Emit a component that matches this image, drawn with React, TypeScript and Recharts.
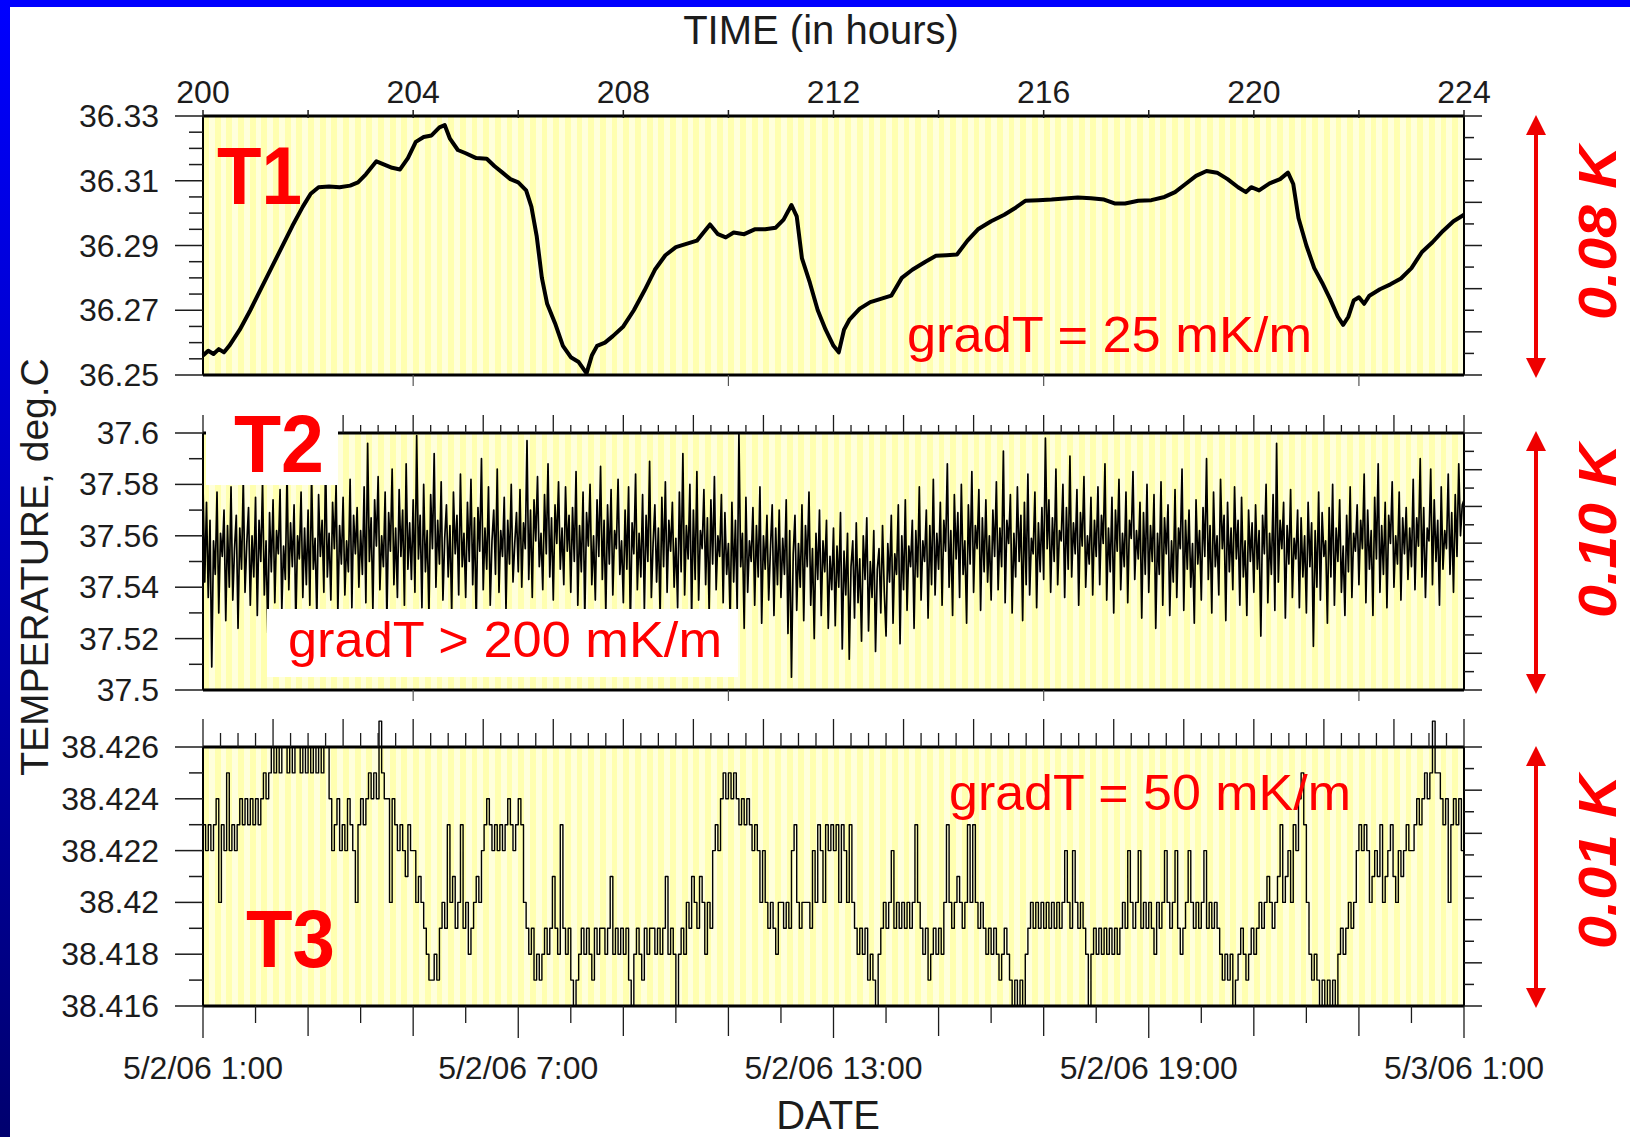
import React from 'react';
import { LineChart, Line, XAxis, YAxis, CartesianGrid } from 'recharts';

const W = 1630;
const H = 1137;
const PLOT_LEFT = 203;
const PLOT_RIGHT = 1464;
const AXIS_W = 40;
const AXIS_H = 30;
const FONT = '"Liberation Sans", Arial, Helvetica, sans-serif';
const INK = '#1c1c1c';
const RED = '#ff0000';

// time axis, hours since start of record
const HOUR_DOMAIN: [number, number] = [200, 224];
const hourLabels = [200, 204, 208, 212, 216, 220, 224];
const dateHours = [200, 206, 212, 218, 224];
const dateLabels = ['5/2/06 1:00', '5/2/06 7:00', '5/2/06 13:00', '5/2/06 19:00', '5/3/06 1:00'];

// T1 sensor, deg.C
const t1Hours = [
  200.0, 200.1, 200.2, 200.3, 200.4, 200.5, 200.7, 200.9, 201.1, 201.3, 201.5, 201.7, 201.9, 202.05,
  202.2, 202.4, 202.6, 202.8, 202.95, 203.1, 203.3, 203.45, 203.6, 203.75, 203.9, 204.05, 204.2,
  204.35, 204.5, 204.6, 204.7, 204.85, 205.0, 205.2, 205.4, 205.55, 205.7, 205.85, 206.0, 206.15,
  206.25, 206.35, 206.45, 206.55, 206.7, 206.85, 207.0, 207.15, 207.3, 207.4, 207.5, 207.65, 207.8,
  208.0, 208.2, 208.4, 208.6, 208.8, 209.0, 209.2, 209.4, 209.55, 209.65, 209.8, 209.95, 210.1,
  210.3, 210.5, 210.7, 210.9, 211.05, 211.2, 211.3, 211.4, 211.55, 211.7, 211.85, 212.0, 212.1,
  212.2, 212.3, 212.5, 212.7, 212.9, 213.1, 213.3, 213.5, 213.75, 213.95, 214.15, 214.35, 214.55,
  214.75, 215.0, 215.25, 215.45, 215.65, 215.9, 216.15, 216.4, 216.65, 216.9, 217.15, 217.35,
  217.55, 217.8, 218.05, 218.3, 218.5, 218.7, 218.9, 219.1, 219.3, 219.5, 219.7, 219.85, 219.95,
  220.1, 220.3, 220.5, 220.65, 220.75, 220.85, 221.0, 221.15, 221.3, 221.45, 221.6, 221.7, 221.8,
  221.9, 222.0, 222.1, 222.2, 222.4, 222.6, 222.8, 223.0, 223.2, 223.4, 223.6, 223.8, 224.0,
];
const t1Temps = [
  36.256, 36.2575, 36.2565, 36.258, 36.257, 36.259, 36.264, 36.27, 36.2765, 36.283, 36.2895, 36.296,
  36.302, 36.306, 36.308, 36.3082, 36.308, 36.3085, 36.3095, 36.312, 36.316, 36.315, 36.314, 36.3135,
  36.317, 36.322, 36.3235, 36.324, 36.3265, 36.3272, 36.323, 36.3195, 36.3185, 36.317, 36.3168,
  36.3145, 36.3125, 36.3105, 36.3095, 36.307, 36.302, 36.293, 36.28, 36.272, 36.266, 36.259, 36.2555,
  36.254, 36.2505, 36.256, 36.259, 36.26, 36.262, 36.265, 36.27, 36.276, 36.2825, 36.287, 36.2895,
  36.2905, 36.2915, 36.2945, 36.2965, 36.2935, 36.2925, 36.294, 36.2935, 36.295, 36.295, 36.2955,
  36.298, 36.3025, 36.299, 36.286, 36.2785, 36.27, 36.264, 36.259, 36.257, 36.264, 36.267, 36.2705,
  36.2725, 36.2735, 36.2745, 36.28, 36.2825, 36.285, 36.2868, 36.287, 36.2872, 36.2915, 36.295,
  36.2975, 36.2995, 36.3015, 36.3038, 36.304, 36.3042, 36.3045, 36.3048, 36.3046, 36.3042, 36.303,
  36.303, 36.3038, 36.304, 36.305, 36.3065, 36.309, 36.3115, 36.313, 36.3125, 36.3105, 36.308,
  36.3065, 36.308, 36.307, 36.3092, 36.3105, 36.3125, 36.309, 36.2985, 36.29, 36.283, 36.2785,
  36.2735, 36.268, 36.2655, 36.268, 36.273, 36.274, 36.272, 36.2745, 36.2765, 36.278, 36.2798,
  36.283, 36.288, 36.291, 36.2945, 36.2975, 36.2995,
];

// T2 sensor, one reading every 2 minutes, mK above 37.5 deg.C
const T2_BASE = 37.5;
const t2Milli = [
  80, 42, 73, 36, 66, 9, 58, 45, 77, 30, 61, 52, 70, 27, 64, 40, 79, 35, 55, 68, 24, 63, 47, 82, 38, 57, 71, 33, 60, 44,
  75, 29, 66, 50, 81, 37, 58, 22, 69, 46, 74, 34, 62, 53, 78, 31, 56, 43, 85, 39, 65, 48, 72, 26, 60, 51, 77, 36, 63, 41,
  70, 33, 84, 47, 59, 28, 76, 52, 66, 38, 90, 44, 61, 35, 73, 55, 80, 30, 64, 49, 75, 37, 58, 46, 82, 32, 68, 53, 71, 40,
  62, 45, 79, 34, 96, 50, 67, 31, 74, 56, 83, 39, 60, 48, 77, 27, 69, 54, 86, 41, 63, 36, 78, 52, 70, 33, 88, 47, 65, 43,
  74, 38, 99, 51, 68, 32, 80, 46, 62, 29, 76, 55, 92, 40, 66, 49, 81, 35, 59, 72, 44, 64, 30, 77, 53, 68, 37, 84, 48, 61,
  36, 73, 50, 82, 41, 67, 26, 71, 54, 90, 39, 63, 47, 79, 33, 58, 70, 45, 86, 38, 62, 52, 75, 31, 66, 49, 80, 42, 57, 69,
  46, 78, 40, 65, 55, 97, 43, 70, 36, 74, 58, 83, 48, 61, 39, 76, 53, 88, 44, 67, 35, 72, 57, 81, 47, 63, 41, 79, 54, 68,
  38, 71, 50, 85, 33, 64, 46, 77, 28, 69, 56, 80, 41, 60, 35, 74, 52, 87, 43, 66, 30, 72, 49, 78, 37, 62, 55, 82, 45, 58,
  34, 70, 47, 79, 25, 65, 53, 84, 39, 61, 44, 76, 31, 68, 50, 89, 36, 57, 72, 42, 63, 29, 75, 48, 81, 38, 66, 54, 73, 40,
  59, 32, 77, 46, 92, 37, 64, 51, 80, 28, 70, 43, 85, 35, 62, 55, 78, 41, 67, 30, 74, 49, 83, 39, 60, 52, 76, 34, 69, 45,
  57, 27, 73, 42, 66, 31, 100, 48, 61, 24, 75, 38, 58, 50, 71, 33, 64, 44, 79, 26, 60, 47, 68, 35, 55, 72, 29, 63, 41, 70,
  36, 59, 45, 74, 22, 62, 5, 53, 68, 31, 57, 40, 72, 27, 64, 48, 77, 33, 55, 20, 61, 43, 70, 29, 58, 46, 66, 24, 52, 39,
  63, 25, 56, 40, 69, 16, 54, 37, 61, 12, 48, 58, 28, 65, 34, 51, 19, 60, 43, 67, 23, 50, 36, 62, 15, 47, 55, 30, 64, 38,
  21, 57, 42, 68, 26, 53, 45, 72, 18, 60, 39, 74, 31, 56, 48, 66, 24, 62, 44, 79, 35, 58, 50, 70, 28, 64, 41, 82, 37, 61,
  47, 73, 33, 66, 54, 88, 40, 62, 29, 76, 51, 69, 36, 80, 45, 58, 26, 72, 49, 85, 38, 64, 55, 78, 31, 67, 46, 74, 42, 60,
  35, 70, 52, 81, 39, 63, 48, 93, 34, 66, 57, 76, 30, 61, 44, 79, 50, 68, 27, 73, 41, 84, 37, 59, 53, 77, 32, 65, 46, 71,
  43, 98, 55, 74, 38, 67, 50, 86, 41, 62, 58, 80, 36, 71, 47, 91, 44, 65, 53, 78, 33, 69, 56, 83, 40, 60, 49, 75, 37, 66,
  52, 79, 41, 68, 57, 88, 35, 63, 46, 75, 30, 70, 54, 82, 39, 61, 48, 77, 34, 66, 59, 85, 43, 62, 51, 73, 28, 69, 45, 80,
  38, 64, 50, 76, 24, 61, 45, 81, 33, 67, 53, 72, 29, 58, 42, 78, 36, 63, 55, 86, 31, 66, 47, 70, 40, 57, 26, 74, 49, 62,
  35, 71, 52, 90, 43, 64, 30, 77, 48, 60, 37, 82, 55, 68, 27, 73, 46, 63, 39, 79, 51, 66, 33, 75, 44, 58, 29, 70, 50, 65,
  38, 72, 47, 62, 21, 68, 53, 80, 34, 61, 45, 76, 31, 96, 42, 66, 55, 73, 28, 64, 49, 78, 36, 59, 51, 70, 32, 67, 44, 60,
  30, 73, 48, 65, 17, 62, 40, 77, 35, 69, 52, 58, 26, 71, 44, 80, 33, 63, 50, 74, 38, 56, 29, 68, 46, 79, 36, 61, 54, 72,
  41, 66, 55, 84, 34, 70, 47, 62, 29, 75, 51, 88, 38, 64, 45, 73, 32, 68, 57, 81, 40, 60, 49, 77, 35, 67, 53, 71, 43, 63,
  48, 82, 39, 67, 56, 90, 44, 71, 36, 63, 58, 86, 41, 74, 50, 66, 33, 79, 47, 62, 55, 84, 45, 69, 38, 76, 52, 88, 60, 72,
  74,
];

// T3 sensor, 1 mK resolution, one reading every 3 minutes, mK above 38.416 deg.C
const T3_BASE = 38.416;
const t3Milli = [
  7, 6, 7, 6, 7, 8, 4, 7, 6, 9, 6, 7, 6, 7, 8, 7, 8, 7, 8, 7,
  8, 7, 8, 9, 8, 9, 10, 9, 10, 9, 10, 10, 9, 10, 9, 10, 10, 9, 10, 9,
  10, 9, 10, 9, 10, 9, 10, 10, 8, 6, 7, 8, 6, 7, 6, 8, 7, 6, 4, 7,
  8, 7, 8, 9, 8, 9, 8, 11, 9, 8, 8, 4, 8, 7, 6, 7, 6, 5, 7, 6,
  6, 4, 5, 4, 3, 2, 1, 1, 2, 1, 3, 4, 3, 7, 4, 5, 3, 4, 7, 3,
  4, 2, 3, 4, 5, 4, 6, 7, 8, 7, 6, 7, 6, 7, 6, 7, 8, 7, 6, 7,
  8, 7, 4, 3, 2, 3, 1, 2, 1, 2, 3, 2, 3, 5, 3, 2, 7, 3, 2, 3,
  1, 0, 1, 2, 3, 2, 3, 2, 1, 3, 2, 3, 3, 2, 3, 5, 2, 3, 2, 3,
  2, 3, 1, 0, 2, 3, 2, 1, 3, 2, 3, 3, 2, 3, 2, 3, 5, 2, 3, 2,
  0, 2, 3, 2, 4, 3, 5, 4, 3, 5, 4, 2, 4, 3, 6, 7, 6, 8, 9, 8,
  9, 8, 9, 8, 7, 8, 7, 8, 7, 6, 7, 6, 4, 6, 4, 3, 4, 3, 2, 4,
  4, 3, 4, 3, 6, 7, 4, 3, 4, 4, 4, 3, 6, 4, 7, 6, 4, 7, 6, 7,
  6, 7, 4, 7, 6, 4, 7, 4, 3, 2, 3, 2, 3, 1, 2, 1, 0, 2, 3, 4,
  3, 4, 6, 3, 4, 3, 4, 3, 4, 3, 4, 7, 4, 3, 2, 3, 1, 2, 3, 2,
  3, 2, 4, 7, 4, 3, 4, 5, 4, 3, 4, 7, 4, 7, 4, 3, 4, 3, 2, 3,
  2, 3, 2, 1, 2, 3, 2, 1, 0, 1, 0, 1, 0, 2, 3, 4, 3, 4, 3, 4,
  3, 4, 3, 4, 3, 4, 3, 4, 6, 4, 3, 6, 4, 3, 4, 3, 2, 0, 2, 3,
  2, 3, 2, 3, 2, 3, 2, 3, 2, 3, 4, 3, 6, 4, 3, 4, 6, 3, 4, 3,
  4, 3, 2, 4, 3, 4, 6, 4, 3, 4, 6, 3, 2, 3, 4, 6, 4, 3, 4, 3,
  4, 6, 3, 4, 3, 4, 3, 2, 1, 2, 1, 2, 0, 1, 2, 3, 2, 1, 2, 3,
  2, 3, 4, 3, 4, 5, 4, 3, 4, 5, 7, 4, 5, 6, 4, 7, 6, 8, 9, 7,
  4, 2, 1, 2, 1, 0, 1, 0, 1, 0, 1, 0, 2, 3, 2, 3, 4, 3, 4, 6,
  7, 6, 7, 6, 4, 5, 6, 5, 7, 4, 5, 6, 7, 5, 4, 6, 5, 6, 7, 6,
  6, 7, 8, 7, 8, 9, 8, 9, 11, 9, 9, 8, 7, 8, 4, 7, 8, 7, 8, 6,
  6,
];

// y-axis labels of the three panels
const t1Labels = [36.25, 36.27, 36.29, 36.31, 36.33];
const t2Labels = [37.5, 37.52, 37.54, 37.56, 37.58, 37.6];
const t3Labels = [38.416, 38.418, 38.42, 38.422, 38.424, 38.426];

type Pt = { h: number; v: number };

const spanHours = (i: number, n: number) =>
  HOUR_DOMAIN[0] + (i * (HOUR_DOMAIN[1] - HOUR_DOMAIN[0])) / (n - 1);

const t1Data: Pt[] = t1Hours.map((h, i) => ({ h, v: t1Temps[i] }));
const t2Data: Pt[] = t2Milli.map((m, i) => ({ h: spanHours(i, t2Milli.length), v: +(T2_BASE + m / 1000).toFixed(3) }));
const t3Data: Pt[] = t3Milli.map((m, i) => ({ h: spanHours(i, t3Milli.length), v: +(T3_BASE + m / 1000).toFixed(3) }));

const steps = (from: number, to: number, step: number) => {
  const n = Math.round((to - from) / step);
  return Array.from({ length: n + 1 }, (_, k) => +(from + k * step).toFixed(5));
};

// pale yellow pin-stripes behind each trace
const stripeCoords = (props: any) => {
  const left = props?.offset?.left ?? PLOT_LEFT;
  const width = props?.offset?.width ?? PLOT_RIGHT - PLOT_LEFT;
  const n = 216;
  return Array.from({ length: n }, (_, i) => left + (width * i) / n);
};

const tickText = { fontFamily: FONT, fontSize: 32, fill: INK } as const;

const leftTick = (labels: number[], step: number) => (props: any) => {
  const { x, y, payload } = props;
  const label = labels.find((l) => Math.abs(l - payload.value) < step / 10);
  return (
    <g>
      <line x1={x} x2={x - (label !== undefined ? 28 : 14)} y1={y} y2={y} stroke={INK} strokeWidth={1.5} />
      {label !== undefined && (
        <text x={x - 44} y={y + 11} textAnchor="end" {...tickText}>
          {String(label)}
        </text>
      )}
    </g>
  );
};

const rightTick = (props: any) => {
  const { x, y, payload } = props;
  const long = Math.round(payload.value) % 2 === 0;
  return <line x1={x} x2={x + (long ? 18 : 10)} y1={y} y2={y} stroke={INK} strokeWidth={1.5} />;
};

const hourTick = (props: any) => {
  const { x, y, payload } = props;
  const label = hourLabels.find((l) => Math.abs(l - payload.value) < 0.01);
  return (
    <g>
      <line x1={x} x2={x} y1={y + 2} y2={y - 6} stroke={INK} strokeWidth={1.5} />
      {label !== undefined && (
        <text x={x} y={y - 13} textAnchor="middle" {...tickText}>
          {String(label)}
        </text>
      )}
    </g>
  );
};

const fineTick = (major: number, minor: number) => (props: any) => {
  const { x, y, payload } = props;
  const k = Math.round((payload.value - HOUR_DOMAIN[0]) * 3);
  return <line x1={x} x2={x} y1={y} y2={y - (k % 4 === 0 ? major : minor)} stroke={INK} strokeWidth={1.3} />;
};

const sparseTick = (props: any) => {
  const { x, y } = props;
  return <line x1={x} x2={x} y1={y} y2={y + 11} stroke="#555" strokeWidth={1.2} />;
};

const dateTick = (props: any) => {
  const { x, y, payload } = props;
  const idx = dateHours.findIndex((d) => Math.abs(d - payload.value) < 0.01);
  const long = Math.round(payload.value - HOUR_DOMAIN[0]) % 2 === 0;
  return (
    <g>
      <line x1={x} x2={x} y1={y} y2={y + (idx >= 0 ? 32 : long ? 30 : 17)} stroke={INK} strokeWidth={1.3} />
      {idx >= 0 && (
        <text x={x} y={y + 73} textAnchor="middle" {...tickText}>
          {dateLabels[idx]}
        </text>
      )}
    </g>
  );
};

type PanelProps = {
  data: Pt[];
  top: number;
  bottom: number;
  domain: [number, number];
  labels: number[];
  minorStep: number;
  rightDivs: number;
  strokeWidth: number;
  curve: 'linear' | 'stepAfter';
  topTicks: 'hours' | 'fine';
  fineMajor?: number;
  fineMinor?: number;
  dates?: boolean;
};

function Panel(p: PanelProps) {
  const margin = {
    top: p.top - AXIS_H,
    bottom: H - p.bottom - AXIS_H,
    left: PLOT_LEFT - AXIS_W,
    right: W - PLOT_RIGHT - AXIS_W,
  };
  const topTickValues = p.topTicks === 'hours' ? steps(200, 224, 2) : steps(200, 224, 1 / 3);
  const bottomTickValues = p.dates ? steps(200, 224, 1) : [204, 210, 216, 222];
  return (
    <div style={{ position: 'absolute', left: 0, top: 0 }}>
      <LineChart width={W} height={H} data={p.data} margin={margin}>
        <CartesianGrid
          xAxisId="b"
          yAxisId="l"
          horizontal={false}
          stroke="none"
          fill="#ffffd2"
          fillOpacity={1}
          verticalFill={['#ffffb0', '#ffffdc']}
          verticalCoordinatesGenerator={stripeCoords}
        />
        <XAxis
          xAxisId="b"
          dataKey="h"
          type="number"
          domain={HOUR_DOMAIN}
          allowDataOverflow
          ticks={bottomTickValues}
          interval={0}
          height={AXIS_H}
          tickSize={0}
          tickMargin={0}
          tickLine={false}
          axisLine={{ stroke: '#000', strokeWidth: 3 }}
          tick={p.dates ? dateTick : sparseTick}
        />
        <XAxis
          xAxisId="t"
          orientation="top"
          dataKey="h"
          type="number"
          domain={HOUR_DOMAIN}
          allowDataOverflow
          ticks={topTickValues}
          interval={0}
          height={AXIS_H}
          tickSize={0}
          tickMargin={0}
          tickLine={false}
          axisLine={{ stroke: '#000', strokeWidth: 3 }}
          tick={p.topTicks === 'hours' ? hourTick : fineTick(p.fineMajor ?? 18, p.fineMinor ?? 8)}
        />
        <YAxis
          yAxisId="l"
          type="number"
          domain={p.domain}
          allowDataOverflow
          ticks={steps(p.domain[0], p.domain[1], p.minorStep)}
          interval={0}
          width={AXIS_W}
          tickSize={0}
          tickMargin={0}
          tickLine={false}
          axisLine={{ stroke: '#000', strokeWidth: 2 }}
          tick={leftTick(p.labels, p.minorStep)}
        />
        <YAxis
          yAxisId="r"
          orientation="right"
          type="number"
          domain={[0, p.rightDivs]}
          allowDataOverflow
          ticks={steps(0, p.rightDivs, 1)}
          interval={0}
          width={AXIS_W}
          tickSize={0}
          tickMargin={0}
          tickLine={false}
          axisLine={{ stroke: '#000', strokeWidth: 2 }}
          tick={rightTick}
        />
        <Line
          xAxisId="b"
          yAxisId="l"
          dataKey="v"
          type={p.curve}
          stroke="#000"
          strokeWidth={p.strokeWidth}
          strokeLinejoin="round"
          dot={false}
          activeDot={false}
          isAnimationActive={false}
        />
      </LineChart>
    </div>
  );
}

const Arrow = ({ x, y1, y2 }: { x: number; y1: number; y2: number }) => (
  <g fill="#ee0000" stroke="none">
    <rect x={x - 2} y={y1 + 14} width={4} height={y2 - y1 - 28} />
    <polygon points={`${x},${y1} ${x - 10},${y1 + 20} ${x + 10},${y1 + 20}`} />
    <polygon points={`${x},${y2} ${x - 10},${y2 - 20} ${x + 10},${y2 - 20}`} />
  </g>
);

const RangeLabel = ({ cy, text }: { cy: number; text: string }) => (
  <text
    transform={`translate(1616,${cy}) rotate(-90)`}
    textAnchor="middle"
    fontFamily={FONT}
    fontSize={54}
    fontWeight="bold"
    fontStyle="italic"
    fill={RED}
    textLength={174}
    lengthAdjust="spacingAndGlyphs"
  >
    {text}
  </text>
);

const bigLabel = { fontFamily: FONT, fontSize: 82, fontWeight: 'bold', fill: RED } as const;
const gradLabel = { fontFamily: FONT, fontSize: 50, fill: RED } as const;

export default function App() {
  return (
    <div style={{ position: 'absolute', left: 0, top: 0, width: W, height: H, background: '#fff', overflow: 'hidden' }}>
      <style>{'.recharts-line-curve{clip-path:none}'}</style>
      <Panel
        data={t1Data}
        top={116}
        bottom={375}
        domain={[36.25, 36.33]}
        labels={t1Labels}
        minorStep={0.005}
        rightDivs={12}
        strokeWidth={4}
        curve="linear"
        topTicks="hours"
      />
      <Panel
        data={t2Data}
        top={433}
        bottom={690}
        domain={[37.5, 37.6]}
        labels={t2Labels}
        minorStep={0.01}
        rightDivs={14}
        strokeWidth={1.7}
        curve="linear"
        topTicks="fine"
        fineMajor={18}
        fineMinor={8}
      />
      <Panel
        data={t3Data}
        top={747}
        bottom={1006}
        domain={[38.416, 38.426]}
        labels={t3Labels}
        minorStep={0.001}
        rightDivs={12}
        strokeWidth={1.4}
        curve="stepAfter"
        topTicks="fine"
        fineMajor={28}
        fineMinor={14}
        dates
      />
      <svg width={W} height={H} style={{ position: 'absolute', left: 0, top: 0, pointerEvents: 'none' }}>
        <defs>
          <linearGradient id="frameEdge" x1="0" y1="0" x2="0" y2="1">
            <stop offset="0" stopColor="#0000ff" />
            <stop offset="1" stopColor="#00006e" />
          </linearGradient>
        </defs>
        <rect x={0} y={0} width={W} height={7} fill="#0000ff" />
        <rect x={0} y={0} width={10} height={H} fill="url(#frameEdge)" />

        <text x={821} y={44} textAnchor="middle" fontFamily={FONT} fontSize={40} fill={INK}>
          TIME (in hours)
        </text>
        <text x={828} y={1129} textAnchor="middle" fontFamily={FONT} fontSize={40} fill={INK}>
          DATE
        </text>
        <text transform="translate(48,567) rotate(-90)" textAnchor="middle" fontFamily={FONT} fontSize={39} fill={INK}>
          TEMPERATURE, deg.C
        </text>

        <text x={217} y={204} textLength={85} lengthAdjust="spacingAndGlyphs" {...bigLabel}>
          T1
        </text>
        <rect x={206} y={406} width={132} height={79} fill="#fff" />
        <text x={234} y={472} textLength={90} lengthAdjust="spacingAndGlyphs" {...bigLabel}>
          T2
        </text>
        <text x={246} y={967} textLength={89} lengthAdjust="spacingAndGlyphs" {...bigLabel}>
          T3
        </text>

        <text x={907} y={352} textLength={405} lengthAdjust="spacingAndGlyphs" {...gradLabel}>
          gradT = 25 mK/m
        </text>
        <rect x={267} y={609} width={471} height={68} fill="#fff" />
        <text x={288} y={657} textLength={434} lengthAdjust="spacingAndGlyphs" {...gradLabel}>
          gradT &gt; 200 mK/m
        </text>
        <text x={949} y={810} textLength={402} lengthAdjust="spacingAndGlyphs" {...gradLabel}>
          gradT = 50 mK/m
        </text>

        <Arrow x={1536} y1={115} y2={378} />
        <Arrow x={1536} y1={431} y2={694} />
        <Arrow x={1536} y1={746} y2={1008} />
        <RangeLabel cy={233} text="0.08 K" />
        <RangeLabel cy={531} text="0.10 K" />
        <RangeLabel cy={862} text="0.01 K" />
      </svg>
    </div>
  );
}
